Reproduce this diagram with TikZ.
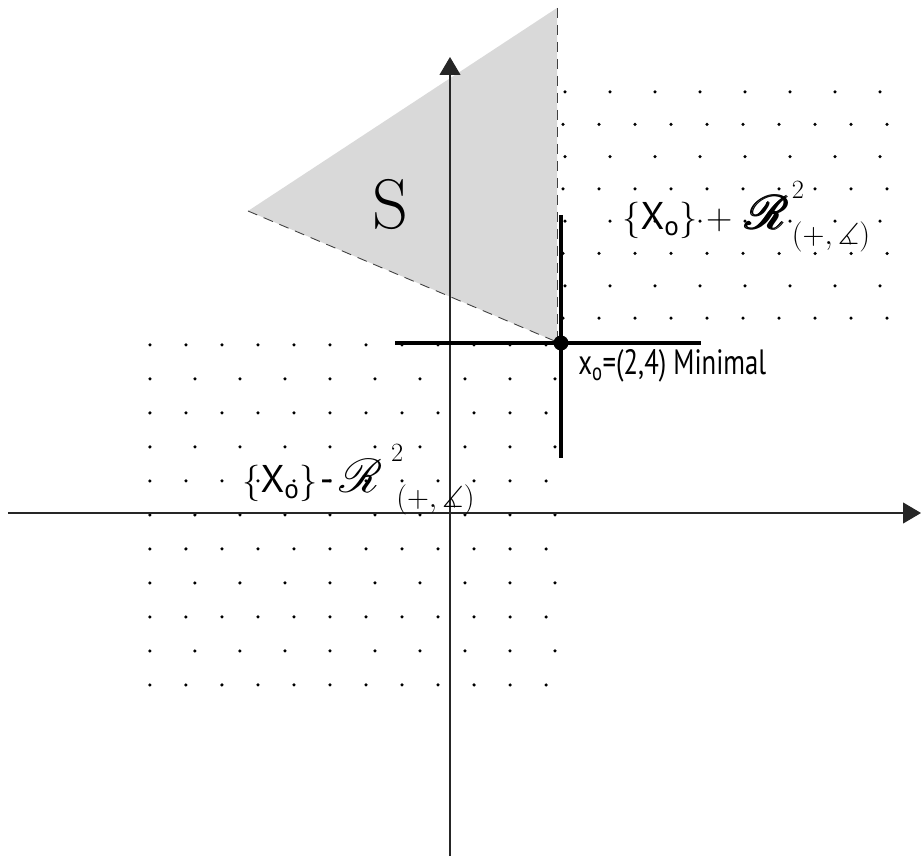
\documentclass[tikz,border=0pt]{standalone}
\usepackage{amsmath}
\usepackage{amssymb}
\usepackage{mathrsfs}
\usepackage{fontspec}
\newfontfamily\labelfont{PT Sans}
\usetikzlibrary{arrows.meta}
\tikzset{
    axisline/.style={draw=black!85, line width=0.6pt, -{Triangle[width=4.2mm, length=3.6mm]}},
    conedge/.style={draw=black!75, line width=0.5pt, dash pattern=on 2mm off 1.4mm},
    crossbar/.style={draw, line width=2.8pt},
    conelabel/.style={anchor=base west, inner sep=0pt, font=\fontsize{22}{24}\selectfont},
    ptlabel/.style={anchor=base west, inner sep=0pt, xscale=0.76, font=\labelfont\fontsize{20}{22}\selectfont},
}
\newcommand{\conesup}{\rlap{\raisebox{18pt}{\fontsize{15}{15}\selectfont 2}}}
\newcommand{\conesub}{\raisebox{-8pt}{\fontsize{17}{17}\selectfont$(+,\measuredangle)$}}

\begin{document}
\begin{tikzpicture}
    \useasboundingbox (-9.00,-6.86) rectangle (9.42,10.26);

    % Corners of S and the point x_o
    \coordinate (stop) at (2.14, 10.10);
    \coordinate (sleft) at (-4.04, 6.04);
    \coordinate (sbot) at (2.14, 3.42);
    \coordinate (xo) at (2.22, 3.40);

    % Set S
    \fill[black!15] (stop) -- (sleft) -- (sbot) -- cycle;
    \node[font=\fontsize{40}{40}\selectfont] (slabel) at (-1.20, 6.16) {S};

    % Dots of {x_o} - R^2
    \foreach \i in {0,2,...,10}
        \foreach \k in {0,...,11}
            \fill (-6.00+0.72*\k, 3.36-0.68*\i) circle (0.035);
    \foreach \i in {1,3,...,9}
        \foreach \k in {0,...,9}
            \fill (-6.00+0.9*\k, 3.36-0.68*\i) circle (0.035);

    % Dots of {x_o} + R^2
    \foreach \j in {0,2,4,6}
        \foreach \k in {0,...,7}
            \fill (2.30+0.9*\k, 8.42-0.646*\j) circle (0.035);
    \foreach \j in {1,3,5,7}
        \foreach \k in {0,...,9}
            \fill (2.26+0.72*\k, 8.42-0.646*\j) circle (0.035);

    % Axes
    \coordinate (xstart) at (-8.84, 0);
    \coordinate (xend) at (9.42, 0);
    \coordinate (ystart) at (0, -6.86);
    \coordinate (yend) at (0, 9.12);
    \draw[axisline] (xstart) -- (xend);
    \draw[axisline] (ystart) -- (yend);

    % Open edges of S
    \draw[conedge] (sleft) -- (sbot);
    \draw[conedge] (stop) -- (sbot);

    % Cross at x_o
    \coordinate (barw) at (-1.10, 3.40);
    \coordinate (bare) at (5.02, 3.40);
    \coordinate (barn) at (2.22, 5.96);
    \coordinate (bars) at (2.22, 1.10);
    \draw[crossbar] (barw) -- (bare);
    \draw[crossbar] (barn) -- (bars);
    \fill (xo) circle (0.15);

    % Labels
    \node[conelabel] (uplabel) at (3.44, 5.66)
        {$\{\text{\labelfont X}_{\text{\labelfont o}}\} +{}$\,\scalebox{1.3}{$\pmb{\mathscr{R}}$}\kern1pt\conesup\conesub};
    \node[conelabel] (lowlabel) at (-4.16, 0.40)
        {$\{\text{\labelfont X}_{\text{\labelfont o}}\}$\kern1pt{\labelfont -}\kern3pt\scalebox{1.3}{$\mathscr{R}$}\kern5pt\conesup\kern3pt\conesub};
    \node[ptlabel] (xolabel) at (2.56, 2.76) {x$_{\text{\labelfont o}}$=(2,4) Minimal};
\end{tikzpicture}
\end{document}
